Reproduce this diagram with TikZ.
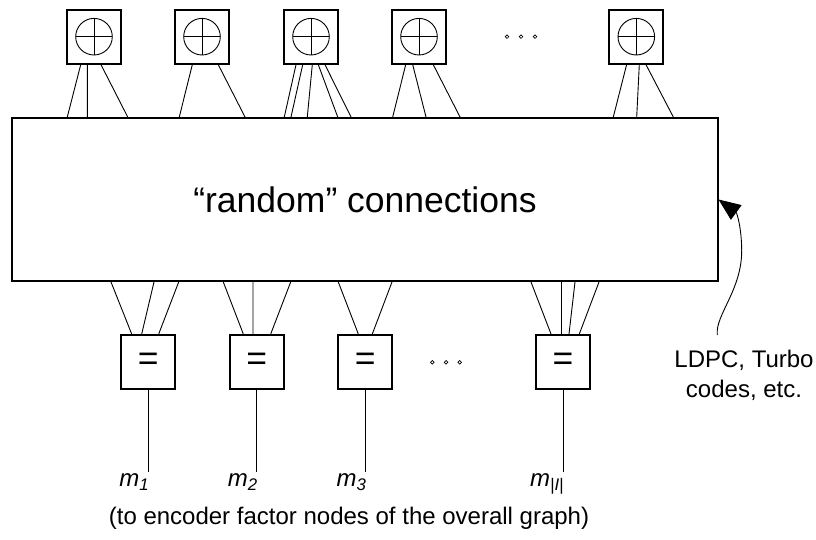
\documentclass[tikz,border=0pt]{standalone}
\usepackage{fontspec}
\setmainfont{Liberation Sans}
\usetikzlibrary{arrows.meta}
\newcommand{\lblfont}{\fontsize{24bp}{30bp}\selectfont}
\newcommand{\bigfont}{\fontsize{35.5bp}{40bp}\selectfont}
\newcommand{\msym}[1]{\textit{m}\textsubscript{\textit{#1}}}
\begin{document}
\begin{tikzpicture}[x=1bp, y=-1bp, line width=0.9bp,
  fbox/.style={draw, line width=2bp, minimum width=54bp, minimum height=54bp, inner sep=0pt},
  link/.style={line width=0.9bp}]
  \useasboundingbox (0,0) rectangle (816,540);
  \node[draw, line width=2bp, minimum width=705bp, minimum height=163bp, inner sep=0pt, font=\bigfont] (rand) at (365,199.5) {“random” connections};
  \foreach \n/\px in {x1/94, x2/202, x3/311, x4/419, x5/636.3} {
    \node[fbox] (\n) at (\px,36.7) {};
    \draw (\n.center) circle (18.3bp);
    \draw ([xshift=-18.3bp]\n.center) -- ([xshift=18.3bp]\n.center);
    \draw ([yshift=-18.3bp]\n.center) -- ([yshift=18.3bp]\n.center);
  }
  \foreach \px in {507,521,535} \draw[line width=0.7bp] (\px,36.7) circle (1.8bp);
  \foreach \n/\a/\b in {x1/-13.3/67.3, x1/-6.7/87.3, x1/7/127.7,
                        x2/-9.7/179.3, x2/16.3/245,
                        x3/-15/284.3, x3/-8.3/291, x3/1.3/307.3, x3/7.3/337.7, x3/14/351,
                        x4/-13.3/392.7, x4/-6.3/426, x4/14.3/460,
                        x5/-9.7/613.3, x5/3/636.7, x5/9.7/673.3}
    \draw[link] ([xshift=\a bp]\n.south) -- (\b,0 |- rand.north);
  \foreach \n/\px in {e1/148.2, e2/256.7, e3/365.3, e4/563}
    \node[fbox, font=\bigfont] (\n) at (\px,362) {=};
  \foreach \px in {432.3,446,459.7} \draw[line width=0.7bp] (\px,362.3) circle (1.8bp);
  \foreach \n/\a/\b in {e1/-16.5/111, e1/-6.5/154, e1/10.5/178.7,
                        e2/-13.4/223.3, e2/-3.7/253, e2/14/290.7,
                        e3/-7/338.3, e3/7/392,
                        e4/-12/531, e4/-1.3/561.7, e4/6/575, e4/16.3/599}
    \draw[link] (\b,0 |- rand.south) -- ([xshift=\a bp]\n.north);
  \foreach \n/\s in {e1/1, e2/2, e3/3, e4/{|I|}} {
    \draw[link] (\n.south) -- ++(0,81.7) coordinate (\n-end);
    \node[anchor=base east, inner sep=0pt, font=\lblfont] (m-\n) at ([xshift=1.5bp]\n.south |- 0,486.7) {\msym{\s}};
  }
  \node[font=\lblfont, align=center] (ldpc) at (744,375.5) {LDPC, Turbo\\codes, etc.};
  \coordinate (tail) at (717.3,335);
  \draw[link, -{Triangle[length=22bp, width=18bp]}] (tail) .. controls (715,315) and (742,290) .. (741.7,250) .. controls (741.5,228) and (737,213) .. (rand.east);
  \node[font=\lblfont] (note) at (349,518) {(to encoder factor nodes of the overall graph)};
\end{tikzpicture}
\end{document}
